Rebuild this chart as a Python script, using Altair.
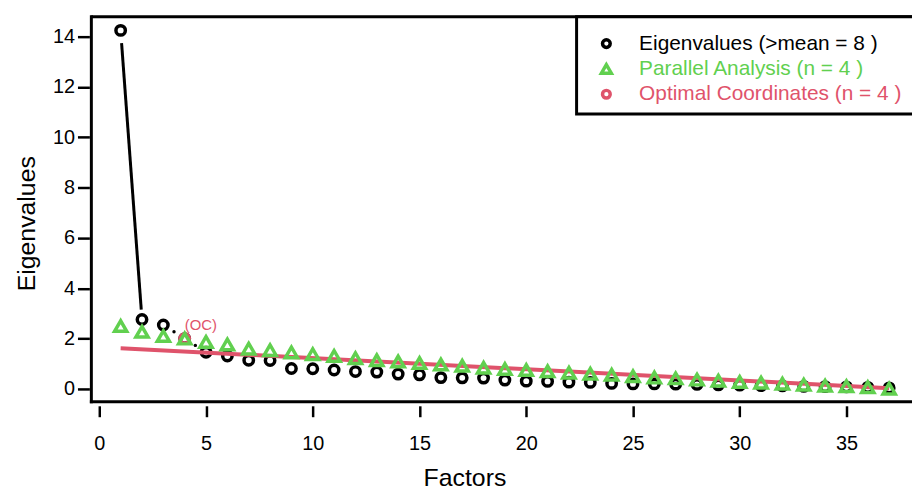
import altair as alt
import numpy as np
import pandas as pd

FONT = "Liberation Sans"
GREEN = "#61D04F"
RED = "#DF536B"

factors = list(range(1, 38))
eigenvalues = [14.25, 2.76, 2.54, 2.00, 1.46, 1.31, 1.14, 1.13, 0.81, 0.80,
               0.75, 0.69, 0.67, 0.59, 0.56, 0.45, 0.44, 0.43, 0.35, 0.31,
               0.30, 0.27, 0.26, 0.22, 0.20, 0.20, 0.19, 0.18, 0.16, 0.15,
               0.13, 0.12, 0.10, 0.09, 0.08, 0.06, 0.04]
parallel = [2.50, 2.27, 2.10, 2.00, 1.87, 1.77, 1.60, 1.54, 1.45, 1.38,
            1.31, 1.22, 1.14, 1.09, 1.03, 0.97, 0.92, 0.84, 0.79, 0.75,
            0.70, 0.64, 0.60, 0.56, 0.50, 0.45, 0.42, 0.37, 0.33, 0.28,
            0.25, 0.21, 0.17, 0.13, 0.11, 0.07, 0.01]
oc_line_x = [1, 37]
oc_line_y = [1.62, 0.03]
n_oc = 4
oc_label_y = 2.55
x_ticks = [0, 5, 10, 15, 20, 25, 30, 35]
y_ticks = [0, 2, 4, 6, 8, 10, 12, 14]
legend_labels = ["Eigenvalues (>mean = 8 )", "Parallel Analysis (n = 4 )",
                 "Optimal Coordinates (n = 4 )"]

W, H = 827, 388
xs = alt.Scale(domain=[-0.372, 38.07], nice=False, zero=False)
ys = alt.Scale(domain=[-0.513, 14.79], nice=False, zero=False)

x_axis = alt.Axis(values=x_ticks, title="Factors", domain=False, grid=False, offset=4,
                  tickSize=11, tickWidth=2.5, tickColor="black",
                  labelFontSize=20, labelFont=FONT, labelColor="black", labelPadding=17,
                  titleFontSize=25, titleFont=FONT, titleFontWeight="normal",
                  titleColor="black", titleX=376, titleY=80, titleAlign="center",
                  titleBaseline="alphabetic")
y_axis = alt.Axis(values=y_ticks, title="Eigenvalues", domain=False, grid=False, offset=2,
                  tickSize=12, tickWidth=2.5, tickColor="black",
                  labelFontSize=20, labelFont=FONT, labelColor="black", labelPadding=3,
                  titleFontSize=25, titleFont=FONT, titleFontWeight="normal",
                  titleColor="black", titleX=-55, titleY=208, titleAngle=-90,
                  titleAlign="center", titleBaseline="alphabetic")


def xe():
    return alt.X("f:Q", scale=xs, axis=x_axis)


def ye():
    return alt.Y("v:Q", scale=ys, axis=y_axis)


ev_df = pd.DataFrame({"f": factors, "v": eigenvalues})
pa_df = pd.DataFrame({"f": factors, "v": parallel})
oc_df = pd.DataFrame({"f": oc_line_x, "v": oc_line_y})
ocpt_df = pd.DataFrame({"f": [n_oc], "v": [eigenvalues[n_oc - 1]]})
t = np.array([0.044, 0.966])
af_df = pd.DataFrame({"f": factors[0] + t * (factors[1] - factors[0]),
                      "v": eigenvalues[0] + t * (eigenvalues[1] - eigenvalues[0])})
dots_df = pd.DataFrame({"f": [3.5, 4.5],
                        "v": [(eigenvalues[2] + eigenvalues[3]) / 2,
                              (eigenvalues[3] + eigenvalues[4]) / 2]})
lab_df = pd.DataFrame({"f": [n_oc], "v": [oc_label_y], "t": ["(OC)"]})
one = pd.DataFrame({"a": [0]})

box_top = alt.Chart(one).mark_rule(color="black", strokeWidth=3).encode(
    x=alt.value(0), x2=alt.value(W + 10), y=alt.value(0))
box_left = alt.Chart(one).mark_rule(color="black", strokeWidth=3, strokeCap="square").encode(
    x=alt.value(0), y=alt.value(0), y2=alt.value(H))
box_bottom = alt.Chart(one).mark_rule(color="black", strokeWidth=3, strokeCap="square").encode(
    x=alt.value(0), x2=alt.value(W + 10), y=alt.value(H))

ev_pts = alt.Chart(ev_df).mark_point(shape="circle", size=90, strokeWidth=3.5,
                                     color="black", filled=False, opacity=1).encode(x=xe(), y=ye())
oc_line = alt.Chart(oc_df).mark_line(color=RED, strokeWidth=4).encode(x=xe(), y=ye())
oc_pt = alt.Chart(ocpt_df).mark_point(shape="circle", size=90, strokeWidth=3.5,
                                      color=RED, filled=False, opacity=1).encode(x=xe(), y=ye())
pa_pts = alt.Chart(pa_df).mark_point(shape="triangle-up", size=150, strokeWidth=3.5,
                                     color=GREEN, filled=False, opacity=1).encode(x=xe(), y=ye())
af_line = alt.Chart(af_df).mark_line(color="black", strokeWidth=3).encode(x=xe(), y=ye())
dots = alt.Chart(dots_df).mark_point(shape="circle", size=12, filled=True,
                                     color="black", opacity=1).encode(x=xe(), y=ye())
oc_lab = alt.Chart(lab_df).mark_text(color=RED, font=FONT, fontSize=15, align="left",
                                     baseline="middle").encode(x=xe(), y=ye(), text="t:N")

leg_box = alt.Chart(one).mark_rect(fill="white", stroke="black", strokeWidth=3).encode(
    x=alt.value(489), x2=alt.value(W + 20), y=alt.value(0), y2=alt.value(98))

leg_layers = []
rows_y = [27, 52.5, 78]
shapes = ["circle", "triangle-up", "circle"]
sizes = [60, 100, 60]
colors = ["black", GREEN, RED]
for i in range(3):
    leg_layers.append(alt.Chart(one).mark_point(shape=shapes[i], size=sizes[i], strokeWidth=3.5,
                                                color=colors[i], filled=False, opacity=1).encode(
        x=alt.value(519), y=alt.value(rows_y[i])))
    leg_layers.append(alt.Chart(one).mark_text(color=colors[i], font=FONT, fontSize=21,
                                               align="left", baseline="middle").encode(
        x=alt.value(552), y=alt.value(rows_y[i]), text=alt.value(legend_labels[i])))

chart = alt.layer(
    box_top, box_left, box_bottom, ev_pts, oc_line, oc_pt, pa_pts, af_line, dots, oc_lab,
    leg_box, *leg_layers
).properties(
    width=W, height=H, autosize=alt.AutoSizeParams(type="none"),
    padding={"left": 84, "top": 7, "right": 0, "bottom": 92}
).configure_view(stroke=None).configure(font=FONT, background="white")

chart.save("out.html", embed_options={"renderer": "svg", "actions": False})
